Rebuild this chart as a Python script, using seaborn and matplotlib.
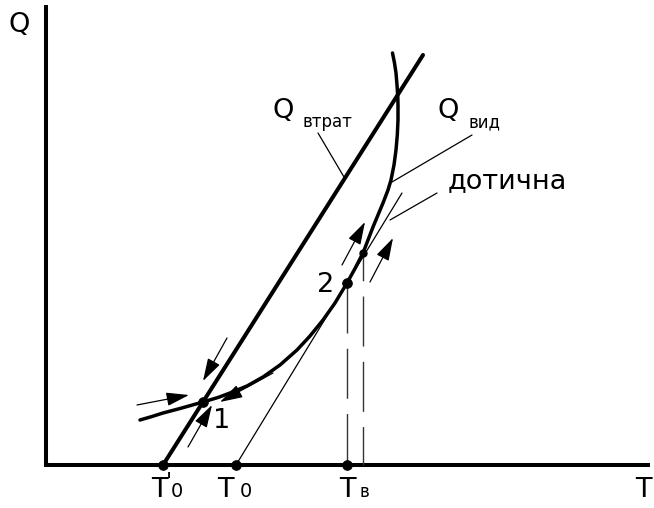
import matplotlib
matplotlib.use("Agg")
import matplotlib.pyplot as plt
import seaborn as sns
import pandas as pd

sns.set_theme(style="white")
plt.rcParams['font.family'] = ['DejaVu Sans']
plt.rcParams['lines.scale_dashes'] = False
plt.rcParams['text.color'] = 'black'

# Heat release curve Q_вид(T)
release_T = [9.4, 10.6, 11.7, 13.4, 15.7, 17.2, 18.4, 20.1, 21.7, 23.4, 25.1,
             26.4, 27.7, 28.9, 30.1, 30.9, 31.7, 32.2, 32.7, 33.2, 33.7, 34.2,
             34.5, 34.8, 35.0, 35.13, 35.2, 35.2, 35.18, 35.1, 35.0, 34.85, 34.65]
release_Q = [4.5, 4.85, 5.2, 5.65, 6.3, 6.75, 7.2, 7.9, 8.8, 10.0, 11.5,
             12.9, 14.5, 16.2, 18.2, 19.65, 21.2, 22.5, 23.8, 25.0, 26.2, 27.5,
             28.5, 30.0, 31.5, 33.0, 34.5, 36.0, 36.8, 38.0, 39.2, 40.2, 41.2]

# Heat loss line Q_втрат(T)
loss_T = [11.7, 37.7]
loss_Q = [0.0, 41.0]

# Tangent from T0 to point 2
tangent_T = [19.0, 35.6]
tangent_Q = [0.0, 27.2]

# Characteristic temperatures on the T axis
T0_prime, T0, Tv = 11.7, 19.0, 30.1
# Equilibrium points 1 and 2, and the neighbouring tangency point
p1 = (15.7, 6.3)
p2 = (30.1, 18.2)
p3 = (31.7, 21.2)

# Axis extents
T_max, Q_max = 60.4, 46.0

# Stability arrows: (start_T, start_Q, end_T, end_Q)
arrow_start_T = [9.1, 22.7, 18.1, 14.2, 29.6, 32.4]
arrow_start_Q = [6.0, 9.2, 12.7, 1.8, 20.0, 18.3]
arrow_end_T = [14.3, 17.4, 15.7, 16.6, 31.9, 34.7]
arrow_end_Q = [7.0, 6.3, 8.4, 6.0, 24.3, 22.7]

# Leader lines from labels to curves
leader_start_T = [27.2, 42.6, 39.1]
leader_start_Q = [33.2, 33.0, 27.2]
leader_end_T = [29.8, 34.6, 34.4]
leader_end_Q = [28.8, 28.3, 24.5]

fig = plt.figure(figsize=(6.54, 5.08), dpi=100)
ax = fig.add_axes([0, 0, 1, 1])
ax.set_xlim(-4.6, 60.8)
ax.set_ylim(-4.3, 46.5)
ax.set_axis_off()

# Coordinate axes
ax.plot([0, 0, T_max], [Q_max, 0, 0], color="black", lw=2.9,
        solid_joinstyle="miter", solid_capstyle="butt")

# Dashed drop lines
ax.plot([p2[0], p2[0]], [p2[1], 0], color="#333333", lw=1.0,
        linestyle=(0, (36, 11)))
ax.plot([p3[0], p3[0]], [p3[1], 0], color="#333333", lw=1.0,
        linestyle=(16, (36, 11)))

df_release = pd.DataFrame({"T": release_T, "Q": release_Q})
df_loss = pd.DataFrame({"T": loss_T, "Q": loss_Q})
df_tan = pd.DataFrame({"T": tangent_T, "Q": tangent_Q})

sns.lineplot(data=df_tan, x="T", y="Q", ax=ax, color="black", lw=0.9,
             sort=False, estimator=None)
sns.lineplot(data=df_release, x="T", y="Q", ax=ax, color="black", lw=2.5,
             sort=False, estimator=None, solid_joinstyle="round")
sns.lineplot(data=df_loss, x="T", y="Q", ax=ax, color="black", lw=2.9,
             sort=False, estimator=None)

# Leader lines
for a, b, c, d in zip(leader_start_T, leader_start_Q, leader_end_T, leader_end_Q):
    ax.plot([a, c], [b, d], color="black", lw=0.9)

# Arrows
for a, b, c, d in zip(arrow_start_T, arrow_start_Q, arrow_end_T, arrow_end_Q):
    ax.annotate("", xy=(c, d), xytext=(a, b),
                arrowprops=dict(arrowstyle="-|>,head_length=1.0,head_width=0.3",
                                color="black", lw=0.9, mutation_scale=14,
                                shrinkA=0, shrinkB=0))

# Points
df_dots = pd.DataFrame({"T": [T0_prime, T0, Tv, p1[0], p2[0]],
                        "Q": [0, 0, 0, p1[1], p2[1]]})
sns.scatterplot(data=df_dots, x="T", y="Q", ax=ax, color="black", s=50,
                edgecolor="black", linewidth=0.5, zorder=5)
ax.scatter([p3[0]], [p3[1]], color="black", s=25, zorder=5)

big = 19.5
# Axis labels
ax.text(-2.7, 44.0, "Q", fontsize=big, ha="center", va="center")
ax.text(59.75, -3.2, "T", fontsize=big, ha="center", va="baseline")

# Curve labels
ax.text(22.6, 34.7, "Q", fontsize=big, ha="left", va="baseline")
ax.text(25.6, 33.8, "втрат", fontsize=12, ha="left", va="baseline")
ax.text(39.1, 34.7, "Q", fontsize=big, ha="left", va="baseline")
ax.text(42.2, 33.8, "вид", fontsize=12, ha="left", va="baseline")
ax.text(40.2, 27.7, "дотична", fontsize=big, ha="left", va="baseline")

# Point labels
ax.text(17.6, 3.7, "1", fontsize=big, ha="center", va="baseline")
ax.text(28.0, 17.3, "2", fontsize=big, ha="center", va="baseline")

# Temperature labels
ax.text(11.3, -3.2, "T", fontsize=big, ha="center", va="baseline")
ax.text(12.25, -2.3, "'", fontsize=16, ha="center", va="baseline")
ax.text(12.5, -3.2, "0", fontsize=14, ha="left", va="baseline")
ax.text(17.9, -3.2, "T", fontsize=big, ha="center", va="baseline")
ax.text(19.4, -3.2, "0", fontsize=14, ha="left", va="baseline")
ax.text(30.15, -3.2, "T", fontsize=big, ha="center", va="baseline")
ax.text(31.3, -3.2, "в", fontsize=12, ha="left", va="baseline")

fig.savefig("out.png", dpi=100)
